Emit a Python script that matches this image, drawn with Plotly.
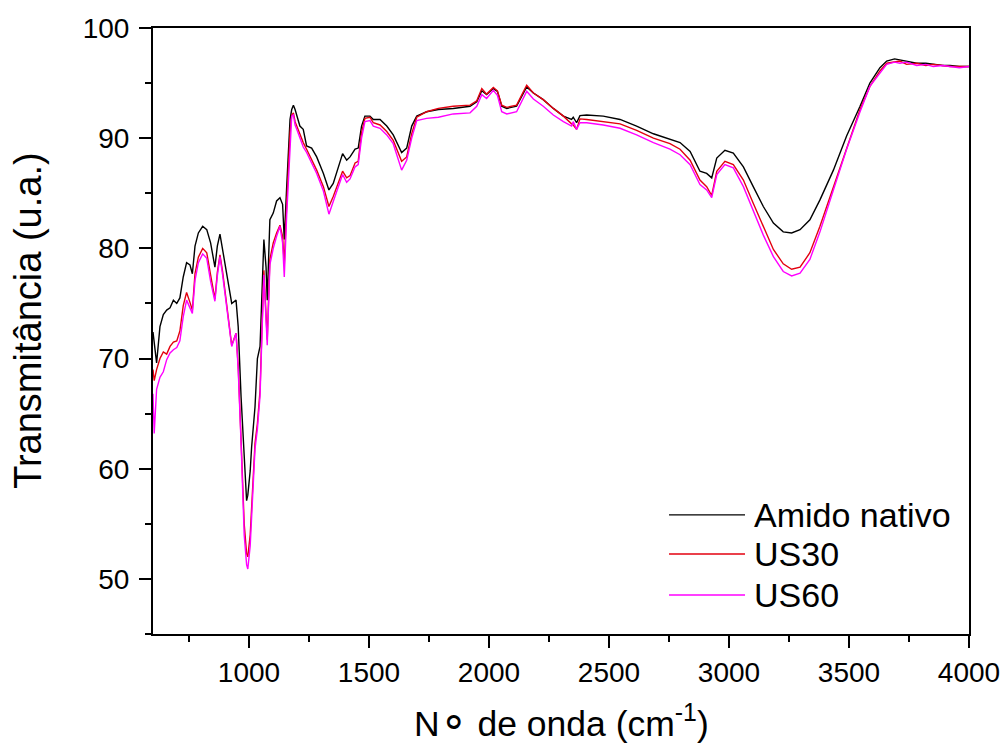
import plotly.graph_objects as go

# Wavenumber grid (cm-1)
wavenumber = [600, 605, 615, 629, 643, 657, 671, 685, 699, 712, 726, 740, 754, 764, 775, 789, 807, 824,
              840, 858, 868, 879, 890, 909, 928, 946, 955, 967, 980, 990, 995, 1005, 1011, 1025, 1035,
              1046, 1053, 1062, 1071, 1076, 1087, 1101, 1115, 1129, 1140, 1147, 1157, 1171, 1178, 1185,
              1192, 1199, 1212, 1226, 1240, 1261, 1282, 1310, 1333, 1351, 1372, 1390, 1407, 1421, 1442,
              1455, 1469, 1483, 1504, 1518, 1546, 1574, 1601, 1636, 1657, 1678, 1699, 1740, 1789, 1851,
              1921, 1949, 1970, 1990, 2018, 2035, 2053, 2074, 2115, 2143, 2157, 2185, 2226, 2268, 2310,
              2344, 2351, 2365, 2379, 2407, 2476, 2546, 2615, 2685, 2754, 2796, 2838, 2879, 2907, 2928,
              2949, 2983, 3018, 3060, 3101, 3143, 3185, 3226, 3261, 3296, 3337, 3379, 3435, 3490, 3546,
              3587, 3629, 3657, 3690, 3712, 3740, 3782, 3820, 3851, 3890, 3921, 3960, 4000]

amido_nativo = [72.4, 71.5, 69.6, 72.9, 74.0, 74.4, 74.6, 75.3, 75.0, 75.5, 77.4, 78.7, 78.5, 77.7, 80.2,
                81.4, 82.0, 81.7, 80.5, 78.3, 80.2, 81.3, 79.9, 77.4, 75.0, 75.3, 72.9, 66.5, 60.5, 57.1,
                57.6, 59.8, 62.0, 65.6, 70.0, 71.1, 75.3, 80.8, 78.3, 75.3, 82.6, 83.2, 84.3, 84.6, 84.0,
                80.8, 85.6, 91.7, 92.6, 93.0, 92.6, 92.0, 91.1, 90.8, 89.3, 89.1, 88.3, 86.8, 85.3, 85.9,
                87.4, 88.6, 88.0, 88.3, 89.0, 89.1, 91.1, 92.0, 92.0, 91.7, 91.7, 91.1, 90.3, 88.7, 89.1,
                91.1, 92.0, 92.4, 92.6, 92.7, 92.9, 93.3, 94.3, 93.95, 94.5, 94.25, 92.9, 92.7, 92.9, 94.1,
                94.65, 94.1, 93.5, 92.7, 92.0, 91.7, 91.9, 91.4, 92.05, 92.1, 92.0, 91.7, 91.1, 90.4, 89.9,
                89.6, 88.8, 87.0, 86.8, 86.4, 88.2, 88.9, 88.65, 87.4, 85.6, 83.8, 82.3, 81.5, 81.4, 81.7,
                82.6, 84.4, 87.1, 90.2, 92.9, 95.0, 96.4, 97.0, 97.2, 97.1, 97.0, 96.8, 96.8, 96.7, 96.6,
                96.6, 96.5, 96.5]

us30 = [69.0, 68.0, 69.0, 70.0, 70.6, 70.4, 71.1, 71.5, 71.6, 72.5, 74.8, 76.0, 75.1, 74.4, 77.7, 79.2,
        80.0, 79.6, 77.6, 75.4, 77.8, 79.4, 77.9, 74.8, 71.2, 72.3, 69.3, 62.6, 55.0, 52.3, 52.0, 54.0,
        56.8, 62.3, 64.1, 67.1, 72.0, 78.0, 74.0, 71.7, 79.0, 80.5, 81.4, 82.1, 81.1, 78.5, 84.0, 90.5,
        92.1, 92.3, 91.5, 91.1, 90.3, 89.6, 89.0, 88.0, 87.1, 85.6, 83.8, 84.7, 85.9, 87.0, 86.4, 86.6,
        87.75, 87.9, 90.5, 91.8, 91.9, 91.4, 91.2, 90.6, 89.8, 87.9, 88.3, 90.4, 91.9, 92.4, 92.7, 92.9,
        93.0, 93.4, 94.5, 94.0, 94.6, 94.3, 93.0, 92.8, 93.0, 94.3, 94.8, 94.1, 93.5, 92.7, 92.0, 91.3,
        91.2, 90.8, 91.75, 91.7, 91.5, 91.3, 90.7, 90.0, 89.5, 89.0, 88.0, 86.2, 85.6, 84.8, 87.0, 87.9,
        87.6, 86.2, 84.1, 82.0, 79.9, 78.6, 78.1, 78.3, 79.6, 82.0, 85.6, 89.0, 92.6, 94.7, 96.1, 96.8,
        96.9, 97.0, 96.7, 96.8, 96.6, 96.7, 96.6, 96.5, 96.5, 96.5]

us60 = [66.8, 63.2, 67.2, 68.3, 68.8, 69.9, 70.5, 70.8, 71.0, 71.6, 73.8, 75.3, 74.6, 74.1, 77.1, 78.7,
        79.5, 79.1, 77.0, 75.2, 77.5, 79.25, 77.6, 74.5, 71.1, 72.3, 69.0, 62.3, 54.0, 51.3, 50.9, 53.0,
        56.0, 61.8, 63.6, 66.6, 71.5, 77.6, 73.5, 71.2, 78.5, 80.0, 81.1, 82.0, 80.5, 77.4, 83.0, 90.0,
        92.0, 92.1, 91.2, 90.8, 90.0, 89.2, 88.7, 87.7, 86.8, 85.2, 83.1, 84.25, 85.5, 86.7, 86.0, 86.3,
        87.4, 87.6, 90.0, 91.5, 91.6, 91.1, 90.9, 90.3, 89.5, 87.1, 88.0, 90.0, 91.6, 91.8, 91.9, 92.2,
        92.3, 92.9, 93.95, 93.6, 94.35, 93.9, 92.4, 92.2, 92.4, 93.65, 94.25, 93.55, 92.9, 92.1, 91.5,
        91.1, 91.5, 90.8, 91.4, 91.4, 91.2, 90.9, 90.3, 89.6, 89.0, 88.5, 87.6, 85.8, 85.3, 84.6, 86.7,
        87.6, 87.3, 85.6, 83.5, 81.2, 79.25, 77.9, 77.5, 77.75, 79.0, 81.5, 85.3, 89.0, 92.4, 94.7, 95.9,
        96.7, 96.9, 96.8, 96.9, 96.6, 96.7, 96.5, 96.6, 96.5, 96.4, 96.5]

series_names = ["Amido nativo", "US30", "US60"]
series_colors = ["#000000", "#e3000f", "#ff00ff"]
series_values = [amido_nativo, us30, us60]

x_ticks = [1000, 1500, 2000, 2500, 3000, 3500, 4000]
y_ticks = [50, 60, 70, 80, 90, 100]

FONT = "Arial, 'Liberation Sans', sans-serif"

fig = go.Figure()
for name, color, vals in zip(series_names, series_colors, series_values):
    fig.add_trace(go.Scatter(x=wavenumber, y=vals, mode="lines", name=name,
                             line=dict(color=color, width=1.4), showlegend=False))

axis_common = dict(showline=True, linecolor="black", linewidth=2, mirror=True,
                   ticks="outside", tickcolor="black", tickwidth=2, ticklen=12,
                   showgrid=False, zeroline=False, automargin=False,
                   ticklabeloverflow="allow",
                   tickfont=dict(family=FONT, size=28, color="black"))

fig.update_xaxes(range=[600, 4000], tickvals=x_ticks, ticktext=[str(v) for v in x_ticks],
                 minor=dict(tickvals=[750, 1250, 1750, 2250, 2750, 3250, 3750], ticklen=6,
                            tickwidth=2, tickcolor="black", ticks="outside"),
                 **axis_common)
fig.update_yaxes(range=[45, 100], tickvals=y_ticks, ticktext=[str(v) for v in y_ticks],
                 minor=dict(tickvals=[45, 55, 65, 75, 85, 95], ticklen=6, tickwidth=2,
                            tickcolor="black", ticks="outside"),
                 ticklabelstandoff=4,
                 **axis_common)

# Manual legend (long line samples as in the reference)
legend_y = [0.1965, 0.1321, 0.0644]
shapes = []
annotations = []
for name, color, ly in zip(series_names, series_colors, legend_y):
    shapes.append(dict(type="line", xref="paper", yref="paper", x0=0.6324, x1=0.7255, y0=ly, y1=ly,
                       line=dict(color=color, width=1.4)))
    annotations.append(dict(xref="paper", yref="paper", x=0.734, y=ly, text=name, showarrow=False,
                            xanchor="left", yanchor="middle",
                            font=dict(family=FONT, size=34, color="black")))

annotations.append(dict(xref="paper", yref="paper", x=-0.153, y=0.517, text="Transmitância (u.a.)",
                        textangle=-90, showarrow=False, xanchor="center", yanchor="middle",
                        font=dict(family=FONT, size=38, color="black")))
annotations.append(dict(xref="paper", yref="paper", x=0.5, y=-0.143,
                        text="N<span style='font-size:44px'>\u2218</span> de onda (cm<sup>-1</sup>)",
                        showarrow=False, xanchor="center", yanchor="middle",
                        font=dict(family=FONT, size=35.5, color="black")))

fig.update_layout(width=1001, height=747, margin=dict(l=153, r=32, t=28, b=113),
                  paper_bgcolor="white", plot_bgcolor="white",
                  shapes=shapes, annotations=annotations)

fig.write_html("out.html")
